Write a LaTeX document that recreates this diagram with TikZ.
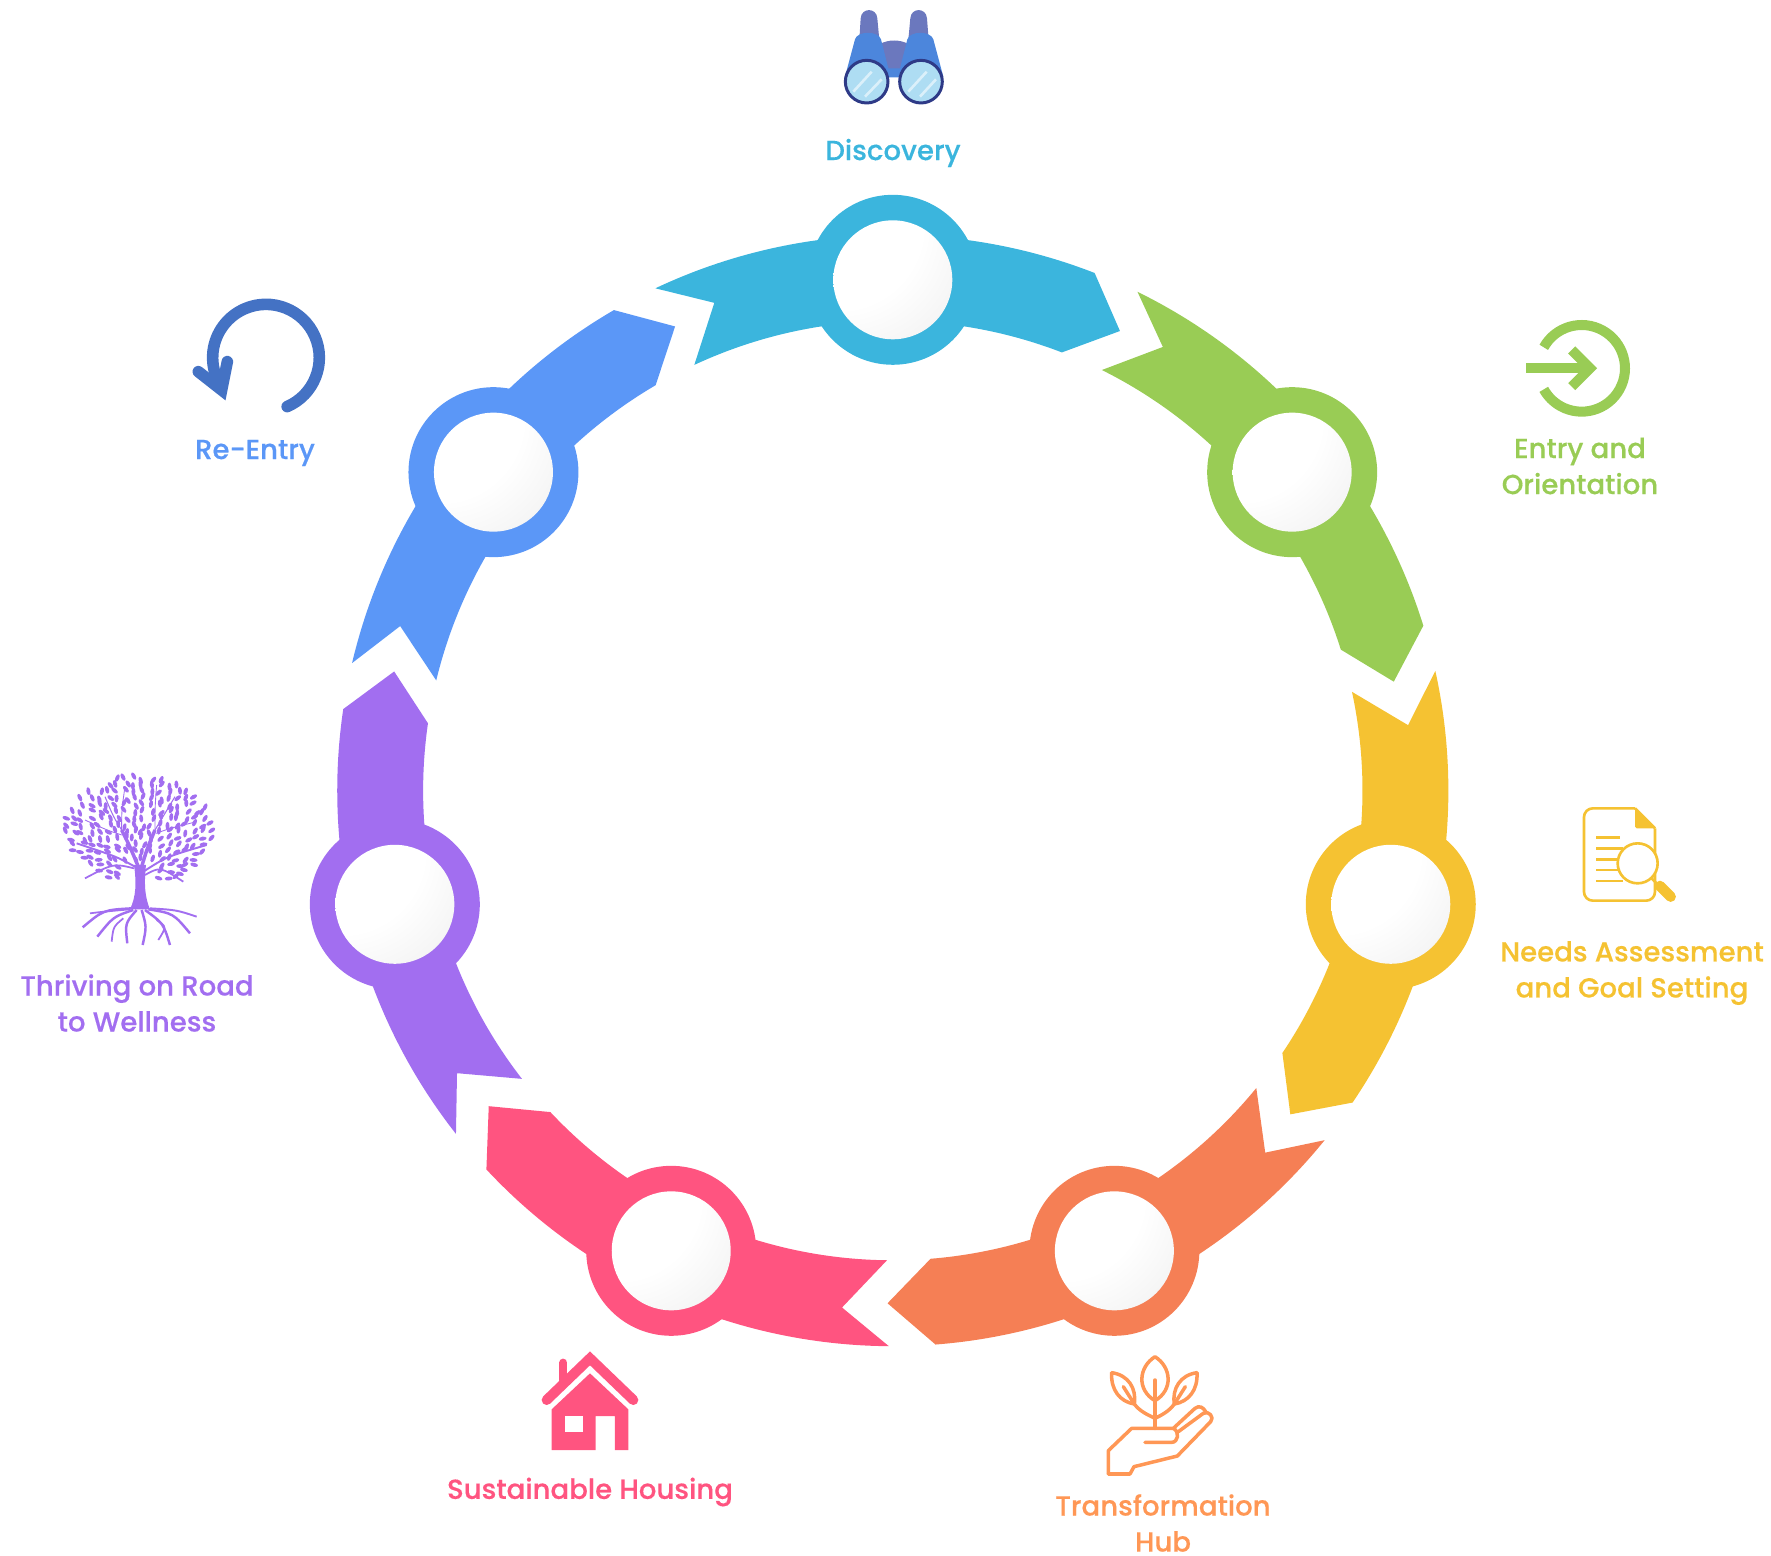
\documentclass[tikz,border=0pt]{standalone}
\usepackage{fontspec}
\setmainfont{Poppins}[BoldFont={* Medium},BoldFeatures={FakeBold=0.35}]
\usetikzlibrary{calc}
\definecolor{sky}{HTML}{3BB5DD}
\definecolor{leaf}{HTML}{99CC55}
\definecolor{sun}{HTML}{F5C232}
\definecolor{ember}{HTML}{F57F55}
\definecolor{peach}{HTML}{FF9755}
\definecolor{rose}{HTML}{FF5480}
\definecolor{violet}{HTML}{A26EF0}
\definecolor{azure}{HTML}{5B97F7}
\definecolor{royal}{HTML}{4472C4}
\definecolor{binobody}{HTML}{4C86DC}
\definecolor{binotop}{HTML}{6B78BE}
\definecolor{binoglass}{HTML}{AEDDF3}
\definecolor{binoline}{HTML}{2E3A87}
\pgfdeclareradialshading{knobshade}{\pgfpoint{-35bp}{35bp}}{
  color(0bp)=(white); color(35bp)=(white);
  color(50bp)=(white!96!black); color(60bp)=(white!90!black);
  color(67bp)=(white!78!black); color(100bp)=(white!65!black)}
\tikzset{
  ringdisc/.style={circle,minimum size=3.4cm,inner sep=0pt},
  knob/.style={circle,minimum size=2.38cm,inner sep=0pt,shading=knobshade},
  lbl/.style={align=center,inner sep=0pt,font=\fontsize{15.7}{20.5}\selectfont\bfseries},
  icon/.style={scale=0.3333},
}
\begin{document}
\begin{tikzpicture}[x=0.02cm,y=-0.02cm]
  \useasboundingbox (0,0) rectangle (1771,1555);
  \begin{scope}[shift={(892.8,790.6)}]
    \foreach \name/\col/\a in {disc/sky/0,entry/leaf/51.43,need/sun/102.86,hub/ember/154.29,house/rose/205.71,road/violet/257.14,back/azure/308.57} {
      \fill[\col] (\a-115.3:555.6) arc[start angle=\a-115.3,end angle=\a-68.7,radius=555.6]
        -- (\a-63.7:512.7) -- (\a-68.9:469.7)
        arc[start angle=\a-68.9,end angle=\a-115,radius=469.7]
        -- (\a-110.1:519.4) -- cycle;
      \node[ringdisc,fill=\col] (\name ring) at (\a-90:510.8) {};
      \node[knob] (\name knob) at (\a-90:510.8) {};
    }
  \end{scope}
  \node[lbl,text=sky] (disc label) at (893,153) {Discovery};
  \node[lbl,text=leaf] (entry label) at (1580,466) {Entry and\\Orientation};
  \node[lbl,text=sun] (need label) at (1632,973) {Needs Assessment\\and Goal Setting};
  \node[lbl,text=peach] (hub label) at (1163,1523) {Transformation\\Hub};
  \node[lbl,text=rose] (house label) at (590,1492) {Sustainable Housing};
  \node[lbl,text=violet] (road label) at (137,1003) {Thriving on Road\\to Wellness};
  \node[lbl,text=azure] (back label) at (255,453) {Re-Entry};
  \begin{scope}[shift={(800,0)},icon]
    \fill[binotop] (178,120) -- (182,55) .. controls (184,22) and (230,22) .. (232,55) -- (238,120) -- cycle;
    \fill[binotop] (325,120) -- (331,55) .. controls (333,22) and (379,22) .. (381,55) -- (386,120) -- cycle;
    \fill[binotop] (240,132) .. controls (265,118) and (300,118) .. (325,132) -- (325,215) -- (240,215) -- cycle;
    \fill[binobody] (135,230) -- (165,118) .. controls (172,92) and (235,92) .. (243,118) -- (265,205) -- (300,205) -- (322,118) .. controls (330,92) and (392,92) .. (400,118) -- (430,230) -- (300,232) -- (265,232) -- cycle;
    \draw[binoline,line width=1.7pt,fill=binoglass] (200,245) circle (64);
    \draw[binoline,line width=1.7pt,fill=binoglass] (363,245) circle (64);
    \draw[white!55!binoglass,line width=1.5pt] (160,275) -- (215,215) (195,290) -- (245,238);
    \draw[white!55!binoglass,line width=1.5pt] (325,275) -- (380,215) (360,290) -- (408,238);
  \end{scope}
  \begin{scope}[shift={(1450,300)},icon]
    \draw[leaf,line width=5.7pt] (395,205) ++(-151:130) arc[start angle=-151,end angle=151,radius=130];
    \draw[leaf,line width=5.7pt] (228,205) -- (410,205);
    \draw[leaf,line width=5.7pt] (365,150) -- (420,205) -- (365,260);
  \end{scope}
  \begin{scope}[shift={(1480,780)},icon]
    \draw[sun,line width=1.5pt,rounded corners=5pt] (465,85) -- (312,85) -- (312,362) -- (525,362) -- (525,145);
    \fill[sun,rounded corners=1pt] (465,85) -- (525,145) -- (465,145) -- cycle;
    \draw[sun,line width=1.5pt] (465,85) -- (525,145);
    \draw[sun,line width=2pt] (348,172) -- (420,172);
    \foreach \y in {205,238,270,303} {
      \draw[sun,line width=1.5pt] (348,\y) -- (430,\y);
    }
    \draw[sun,line width=1.5pt,fill=white] (473,250) circle (60);
    \draw[sun,line width=1.5pt] (515,295) -- (535,315);
    \draw[sun,line width=6pt,line cap=round] (540,318) -- (572,350);
  \end{scope}
  \begin{scope}[shift={(1040,1330)},icon,line width=2pt,peach,line join=round,line cap=round]
    \draw (345,80) .. controls (295,112) and (290,180) .. (345,212) .. controls (400,180) and (395,112) .. (345,80);
    \draw (345,150) -- (345,295);
    \draw (215,128) .. controls (212,180) and (240,215) .. (283,222) .. controls (290,175) and (265,135) .. (215,128);
    \draw (250,170) -- (283,222) .. controls (300,245) and (325,255) .. (345,265);
    \draw (471,128) .. controls (474,180) and (446,215) .. (403,222) .. controls (396,175) and (421,135) .. (471,128);
    \draw (436,170) -- (403,222) .. controls (386,245) and (365,255) .. (345,265);
    \draw (205,432) -- (205,362) -- (275,295) -- (400,295) -- (465,235) .. controls (478,225) and (490,232) .. (497,245);
    \draw (415,305) -- (490,250) .. controls (505,240) and (525,262) .. (512,275) -- (412,378) -- (282,410) -- (270,432) -- (205,432);
    \draw (400,295) .. controls (420,305) and (415,337) .. (395,337) -- (315,337);
  \end{scope}
  \begin{scope}[shift={(500,1330)},icon,rose]
    \fill (155,238) -- (270,130) -- (385,238) -- (385,360) -- (345,360) -- (345,258) -- (287,258) -- (287,360) -- (155,360) -- cycle;
    \fill[white] (195,258) rectangle (248,307);
    \draw[line width=4.6pt,line cap=round] (190,98) -- (190,150);
    \draw[line width=5.7pt,line cap=round] (140,210) -- (270,85) -- (400,210);
  \end{scope}
  \begin{scope}[shift={(10,750)},icon,violet]
    \pgfmathsetseed{11}
    \foreach \gx in {165,191,...,610} {
      \foreach \gy in {85,105,...,410} {
        \pgfmathsetmacro{\jx}{\gx+16*rnd-8}
        \pgfmathsetmacro{\jy}{\gy+14*rnd-7}
        \pgfmathsetmacro{\dirn}{atan2(\jy-400,\jx-385)+70*rnd-35}
        \pgfmathsetmacro{\keep}{(((\jx-385)/222)^2+((\jy-242)/165)^2<1 && (\jy<335 || abs(\jx-385)>55)) ? 1 : 0}
        \ifnum\keep=1
          \fill[shift={(\jx,\jy)},rotate=-\dirn] (0,0) ellipse[x radius=12,y radius=6];
        \fi
      }
    }
    \fill (372,345) .. controls (380,400) and (378,440) .. (360,478) -- (420,478) .. controls (404,440) and (402,400) .. (408,345) -- cycle;
    \foreach \xa/\ya/\xb/\yb/\xc/\yc/\w in {
      385/350/360/290/335/240/2, 395/350/410/300/435/240/2, 335/240/310/200/285/140/0.6,
      335/240/335/180/345/110/0.5, 435/240/465/190/495/140/0.6, 435/240/435/170/440/105/0.5,
      375/350/320/320/200/280/1.1, 400/365/470/320/590/285/1.1, 372/355/310/340/225/385/1,
      405/375/450/350/520/395/1, 335/255/290/240/225/210/0.5, 438/250/480/235/560/215/0.5} {
      \draw[line width=\w pt] (\xa,\ya) .. controls (\xb,\yb) .. (\xc,\yc);
    }
    \foreach \xa/\ya/\xb/\yb/\xc/\yc/\w in {
      365/475/280/480/218/532/1.4, 370/480/310/500/262/560/1.4, 380/480/345/520/352/580/1.4,
      395/480/410/530/398/585/1.4, 405/480/460/520/480/585/1.4, 415/478/490/490/540/550/1.4,
      420/475/500/480/560/500/1.1, 360/478/280/485/240/490/1, 340/505/310/530/305/575/1,
      440/510/470/530/445/570/1} {
      \draw[line width=\w pt] (\xa,\ya) .. controls (\xb,\yb) .. (\xc,\yc);
    }
  \end{scope}
  \begin{scope}[shift={(170,280)},icon,royal]
    \draw[line width=6.6pt,line cap=round] (288,233) ++(66.6:160) arc[start angle=66.6,end angle=-205,radius=160];
    \draw[line width=6.6pt,line cap=round,line join=miter] (85,275) -- (155,330) -- (172,245);
  \end{scope}
\end{tikzpicture}
\end{document}
